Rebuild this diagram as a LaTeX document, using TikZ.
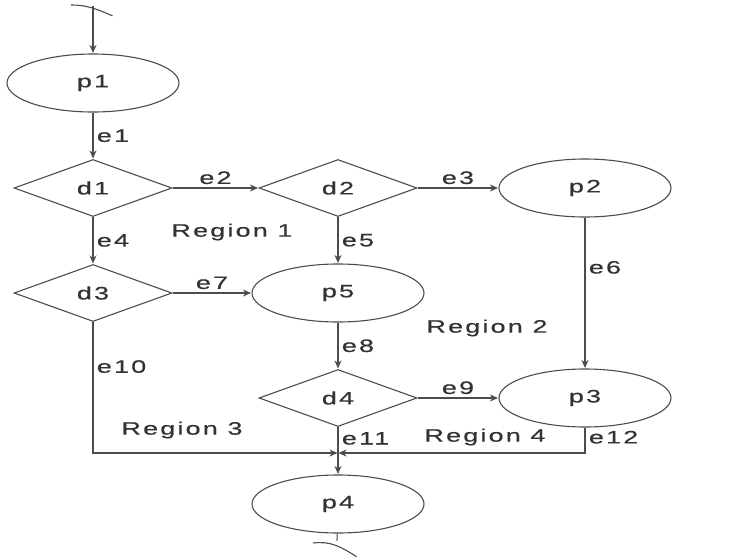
\documentclass[tikz,border=0pt]{standalone}
\usepackage{fontspec}
\setmainfont{Liberation Sans}[FakeStretch=1.5,LetterSpace=12,FakeBold=0.5]
\usetikzlibrary{arrows.meta,shapes.geometric}

\begin{document}
\begin{tikzpicture}[x=1pt,y=-1pt,>={Stealth[length=8pt,width=7pt]},shorten >=0.5pt,auto,
                    node distance=105pt,line width=1.1pt]
  \tikzstyle{every node}=[font=\fontsize{18}{21}\selectfont,text=black!80]
  \tikzstyle{process}=[ellipse,draw=black!70,minimum width=172pt,minimum height=58pt]
  \tikzstyle{decision}=[diamond,draw=black!70,aspect=3,inner sep=0pt,
    minimum width=158pt,minimum height=57pt]

  \useasboundingbox (0,0) rectangle (740,558);

  \node[process] (p1) at (93,83)          {p1};
  \node[decision] (d1) [below of=p1]      {d1};
  \node[decision] (d3) [below of=d1]      {d3};
  \node[decision] (d2) [node distance=245pt, right of=d1] {d2};
  \node[process] (p2) [node distance=247pt, right of=d2]  {p2};
  \node[process] (p5) [below of=d2]       {p5};
  \node[decision] (d4) [below of=p5]      {d4};
  \node[process] (p3) [node distance=247pt, right of=d4]  {p3};
  \node[process] (p4) [node distance=106pt, below of=d4]  {p4};

  \coordinate (in) at (93,6);
  \coordinate (out) at (337,541);
  \path (d4) ++(0,55) coordinate (join);

  % breaks at the two loose ends
  \draw[black!70] (71,5) .. controls (88,5) and (96,9) .. (113,16);
  \draw[black!70] (313,543) .. controls (330,541) and (340,546) .. (357,557);

  \draw[->,black!70] (in) -- (p1);
  \draw[black!70]
        (p1) edge   [->]       node {e1} (d1)
        (d1) edge   [->]       node {e2} (d2)
        (d2) edge   [->]       node {e3} (p2)
        (d1) edge   [->]       node {e4} (d3)
        (d2) edge   [->]       node {e5} (p5)
        (p2) edge   [->]       node[pos=0.33] {e6} (p3)
        (d3) edge   [->]       node {e7} (p5)
        (p5) edge   [->]       node {e8} (d4)
        (d4) edge   [->]       node {e9} (p3)
        (d4) edge   [->]       node[pos=0.24] {e11} (p4);
  \draw[->,black!70] (d3) |- node[pos=0.17] {e10} (join);
  \draw[->,black!70] (p3) |- node[pos=0.19] {e12} (join);
  \draw[black!70] (p4) -- (out);

  \node (r1) at (232,232) {Region 1};
  \node (r2) at (487,328) {Region 2};
  \node (r3) at (182,430) {Region 3};
  \node (r4) at (485,437) {Region 4};
\end{tikzpicture}
\end{document}
